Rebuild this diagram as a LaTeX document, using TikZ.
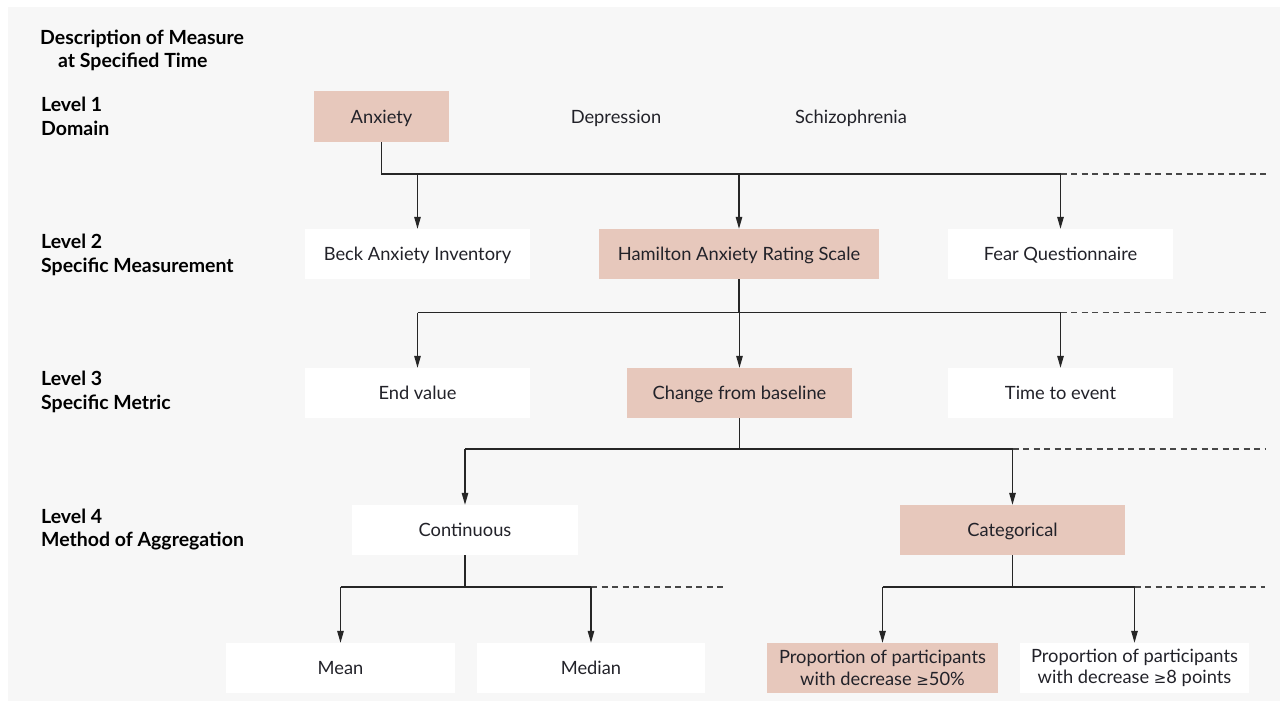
\documentclass[tikz,border=0pt]{standalone}
\usepackage{fontspec}
\setmainfont{Lato}
\newfontfamily\symf{DejaVu Sans}
\usetikzlibrary{arrows.meta}
\definecolor{bg}{HTML}{F7F7F7}
\definecolor{tanfill}{HTML}{E7C8BC}
\definecolor{ink}{HTML}{222229}
\definecolor{wirec}{HTML}{262626}
\newcommand{\myge}{{\symf\fontsize{15}{17}\selectfont ≥}}
\begin{document}
\begin{tikzpicture}[x=1pt,y=-1pt,
  box/.style={minimum width=225pt, minimum height=50pt, inner sep=0pt, text=ink,
    font=\fontsize{18.3}{21.7}\selectfont, align=center},
  one/.style={text height=13.5pt, text depth=0pt},
  hi/.style={box, fill=tanfill},
  lo/.style={box, fill=white},
  plain/.style={box},
  lvl/.style={anchor=west, font=\bfseries\fontsize{19.5}{23.5}\selectfont, align=left, text=black, inner sep=0pt},
  wire/.style={draw=wirec, line width=1.3pt},
  arr/.style={wire, -{Triangle[length=12pt,width=6.5pt]}},
  tail/.style={draw=wirec!85, line width=1.2pt, dash pattern=on 6pt off 4.5pt}]
\fill[white] (0,0) rectangle (1285,706);
\fill[bg] (8,7) rectangle (1280,701);
\useasboundingbox (0,0) rectangle (1285,706);

% level labels
\node[lvl] (title) at (40,50.5) {Description of Measure\\\hspace*{18pt}at Specified Time};
\node[lvl] (l1) at (41,116.5) {Level 1\\Domain};
\node[lvl] (l2) at (41,255) {Level 2\\Specific Measurement};
\node[lvl] (l3) at (41,391.7) {Level 3\\Specific Metric};
\node[lvl] (l4) at (41,529.7) {Level 4\\Method of Aggregation};

% level 1
\node[hi, one, minimum width=135pt, minimum height=51pt] (anx) at (381.5,116.5) {Anxiety};
\node[plain, one] (dep) at (616,116.5) {Depression};
\node[plain, one] (sch) at (851,116.5) {Schizophrenia};

% level 2
\node[lo, one] (beck) at (417.5,254) {Beck Anxiety Inventory};
\node[hi, one, minimum width=280pt] (ham) at (739,254) {Hamilton Anxiety Rating Scale};
\node[lo, one] (fear) at (1060.5,254) {Fear Questionnaire};

% level 3
\node[lo, one] (endv) at (417.5,393) {End value};
\node[hi, one] (chg) at (739.5,393) {Change from baseline};
\node[lo, one] (tte) at (1060.5,393) {Time to event};

% level 4
\node[lo, one, minimum width=226pt] (cont) at (465,530) {Continuous};
\node[hi, one] (cat) at (1012.5,530) {Categorical};

% level 5
\node[lo, one, minimum width=229pt] (mean) at (340.5,668) {Mean};
\node[lo, one, minimum width=228pt] (med) at (591,668) {Median};
\node[hi, minimum width=231pt] (p50) at (882.5,668) {Proportion of participants\\with decrease \myge50\%};
\node[lo, minimum width=229pt] (p8) at (1134.5,668) {Proportion of participants\\with decrease \myge8 points};

% bus lines
\coordinate (bus1) at (0,174);
\coordinate (bus2) at (0,312.5);
\coordinate (bus3) at (0,449);
\coordinate (bus4) at (0,587);
\coordinate (e1) at (1268,174);
\coordinate (e2) at (1268,312.5);
\coordinate (e3) at (1265,449);
\coordinate (e4) at (723,587);
\coordinate (e5) at (1265,587);

% level 1 -> 2
\draw[wire] (anx.south) |- (fear.north |- bus1);
\draw[tail] (fear.north |- bus1) -- (e1);
\draw[arr] (beck.north |- bus1) -- (beck.north);
\draw[arr] (ham.north |- bus1) -- (ham.north);
\draw[arr] (fear.north |- bus1) -- (fear.north);

% level 2 -> 3
\draw[wire] (ham.south) -- (ham.south |- bus2);
\draw[wire] (endv.north |- bus2) -- (tte.north |- bus2);
\draw[tail] (tte.north |- bus2) -- (e2);
\draw[arr] (endv.north |- bus2) -- (endv.north);
\draw[arr] (chg.north |- bus2) -- (chg.north);
\draw[arr] (tte.north |- bus2) -- (tte.north);

% level 3 -> 4
\draw[wire] (chg.south) -- (chg.south |- bus3);
\draw[wire] (cont.north |- bus3) -- (cat.north |- bus3);
\draw[tail] (cat.north |- bus3) -- (e3);
\draw[arr] (cont.north |- bus3) -- (cont.north);
\draw[arr] (cat.north |- bus3) -- (cat.north);

% level 4 -> 5
\draw[wire] (cont.south) -- (cont.south |- bus4);
\draw[wire] (mean.north |- bus4) -- (med.north |- bus4);
\draw[tail] (med.north |- bus4) -- (e4);
\draw[arr] (mean.north |- bus4) -- (mean.north);
\draw[arr] (med.north |- bus4) -- (med.north);

\draw[wire] (cat.south) -- (cat.south |- bus4);
\draw[wire] (p50.north |- bus4) -- (p8.north |- bus4);
\draw[tail] (p8.north |- bus4) -- (e5);
\draw[arr] (p50.north |- bus4) -- (p50.north);
\draw[arr] (p8.north |- bus4) -- (p8.north);
\end{tikzpicture}
\end{document}
